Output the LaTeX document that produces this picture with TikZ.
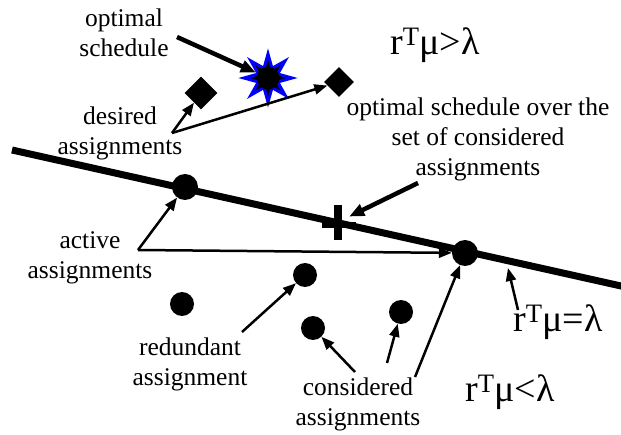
\documentclass[tikz,border=0pt]{standalone}
\usepackage{fontspec}
\setmainfont{Liberation Serif}
\usetikzlibrary{shapes.geometric, positioning, arrows.meta}

\tikzset{
  dot/.style={circle, fill=black, inner sep=0pt, minimum size=24pt},
  gem/.style={diamond, fill=black, inner sep=0pt, minimum size=33pt},
  lbl/.style={align=center, inner sep=0pt, font=\fontsize{25.5}{30}\selectfont},
  big/.style={inner sep=0pt, font=\fontsize{38}{40}\selectfont},
  arr/.style={-{Triangle[length=13pt,width=10pt]}, line width=2.5pt},
  fatarr/.style={-{Triangle[length=15pt,width=12pt]}, line width=4.5pt},
}

\begin{document}
\begin{tikzpicture}[x=1pt,y=-1pt]
        \useasboundingbox (0,0) rectangle (621,435);
        % the line r^T mu = lambda
        \coordinate (lnA) at (12,150);
        \coordinate (lnB) at (630,288);
        \draw[line width=7pt] (lnA) -- (lnB);
        % optimal schedule (star)
        \node[star, star points=8, star point ratio=2.3, minimum size=48pt, inner sep=0pt,
              fill=black, draw=blue, line width=3pt] (opt) at (268,78) {};
        \node[dot, minimum size=23pt] at (opt) {};
        % desired assignments
        \node[gem] (d1) at (201,93) {};
        \node[gem, minimum size=30pt] (d2) at (339,82) {};
        % considered assignments
        \node[dot, minimum size=26pt] (a1) at (185,187) {};
        \node[dot, minimum size=26pt] (a2) at (465,253) {};
        \node[dot] (r1) at (305,275) {};
        \node[dot] (o1) at (182,304) {};
        \node[dot] (c1) at (313,328) {};
        \node[dot] (c2) at (401,312) {};
        % cross on the line
        \node[minimum size=22pt, inner sep=0pt] (x1) at (338,222) {};
        \draw[line width=8pt] (338,205) -- (338,240);
        \draw[line width=6pt] (322,225) -- (356,225);
        % labels
        \node[lbl] (tOpt) at (124,33) {optimal\\schedule};
        \node[lbl] (tDes) at (120,133) {desired\\assignments};
        \node[big] (tGt) at (435,45) {r\textsuperscript{T}μ>λ};
        \node[lbl] (tOsc) at (478,139) {optimal schedule over the\\set of considered\\assignments};
        \node[lbl] (tAct) at (90,258) {active\\assignments};
        \node[lbl] (tRed) at (190,364) {redundant\\assignment};
        \node[lbl] (tCon) at (358,404) {considered\\assignments};
        \node[big] (tEq) at (558,322) {r\textsuperscript{T}μ=λ};
        \node[big] (tLt) at (510,392) {r\textsuperscript{T}μ<λ};
        % arrow start points
        \coordinate (sOpt) at (177,37);
        \coordinate (sDes) at (172,133);
        \coordinate (sOsc) at (418,183);
        \coordinate (sAct) at (138,250);
        \coordinate (sRed) at (242,332);
        \coordinate (sCon1) at (355,372);
        \coordinate (sCon2) at (387,363);
        \coordinate (sCon3) at (415,377);
        \coordinate (sEq) at (518,310);
        \coordinate (eqT) at (508,268);
        % arrows
        \draw[fatarr] (sOpt) -- (opt);
        \draw[arr] (sDes) -- (d1);
        \draw[arr] (sDes) -- (d2);
        \draw[fatarr] (sOsc) -- (x1);
        \draw[arr] (sAct) -- (a1);
        \draw[arr] (sAct) -- (a2);
        \draw[arr] (sRed) -- (r1);
        \draw[arr] (sCon1) -- (c1);
        \draw[arr] (sCon2) -- (c2);
        \draw[arr] (sCon3) -- (a2);
        \draw[arr] (sEq) -- (eqT);
    \end{tikzpicture}
\end{document}
